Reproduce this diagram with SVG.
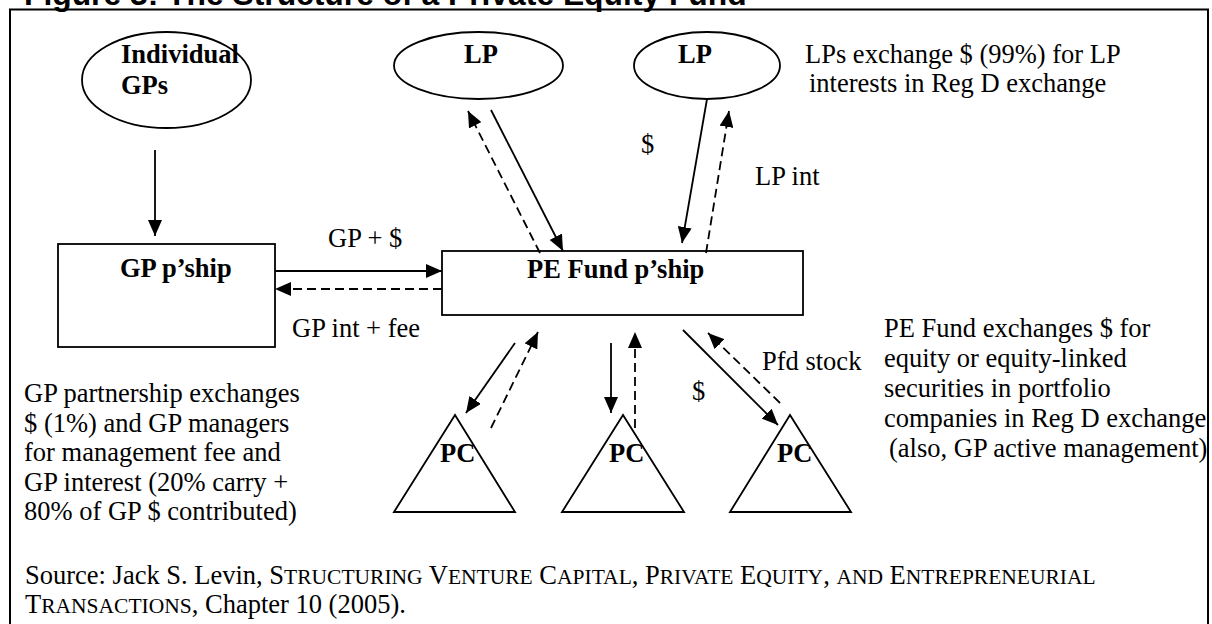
<svg xmlns="http://www.w3.org/2000/svg" width="1212" height="624" viewBox="0 0 1212 624">
<defs>
<style>
.t{font-family:"Liberation Serif","Times New Roman",serif;font-size:26.5px;fill:#000}
.b{font-weight:bold}
.src{font-size:26.5px}
.sc{font-size:21.5px}
.shape{fill:none;stroke:#000;stroke-width:1.8}
.ln{fill:none;stroke:#000;stroke-width:1.8}
.d{stroke-dasharray:9 5}
</style>
<marker id="ah" viewBox="0 0 16 14" refX="16" refY="7" markerWidth="16" markerHeight="14" orient="auto" markerUnits="userSpaceOnUse">
<path d="M0,0 L16,7 L0,14 z" fill="#000"/>
</marker>
</defs>
<rect width="1212" height="624" fill="#fff"/>
<text x="24" y="5" style="font-family:'Liberation Sans',Arial,sans-serif;font-weight:bold;font-size:31.8px">Figure 3: The Structure of a Private Equity Fund</text>
<rect id="frame" x="10" y="9.5" width="1198" height="700" fill="none" stroke="#000" stroke-width="2"/>

<g id="individual-gps">
<ellipse class="shape" cx="166.5" cy="80" rx="84.5" ry="48"/>
<text class="t b" x="121" y="63">Individual</text>
<text class="t b" x="121" y="94">GPs</text>
</g>
<g id="lp1">
<ellipse class="shape" cx="478.5" cy="65.5" rx="84.5" ry="33.5"/>
<text class="t b" x="464" y="63">LP</text>
</g>
<g id="lp2">
<ellipse class="shape" cx="707" cy="65.5" rx="73" ry="33.5"/>
<text class="t b" x="678" y="63">LP</text>
</g>
<g id="gp-pship">
<rect class="shape" x="58" y="244" width="217" height="103"/>
<text class="t b" x="120" y="277">GP p’ship</text>
</g>
<g id="pe-fund">
<rect class="shape" x="442" y="251" width="361" height="64"/>
<text class="t b" x="527" y="278">PE Fund p’ship</text>
</g>
<g id="pc1">
<path class="shape" d="M455,415 L394,512 L515,512 Z"/>
<text class="t b" x="440" y="462">PC</text>
</g>
<g id="pc2">
<path class="shape" d="M623,415 L562,512 L684,512 Z"/>
<text class="t b" x="609" y="462">PC</text>
</g>
<g id="pc3">
<path class="shape" d="M790,415 L730,512 L851,512 Z"/>
<text class="t b" x="777" y="462">PC</text>
</g>

<g id="connectors">
<path class="ln" d="M155,150 L155,236" marker-end="url(#ah)"/>
<path class="ln" d="M275,271 L442,271" marker-end="url(#ah)"/>
<path class="ln d" d="M442,289 L275,289" marker-end="url(#ah)"/>
<path class="ln" d="M491,110 L563,251" marker-end="url(#ah)"/>
<path class="ln d" d="M540,253 L468,111" marker-end="url(#ah)"/>
<path class="ln" d="M707,99 L682,243" marker-end="url(#ah)"/>
<path class="ln d" d="M706,253 L729,111" marker-end="url(#ah)"/>
<path class="ln" d="M515,343 L466,413" marker-end="url(#ah)"/>
<path class="ln d" d="M491,428 L538,332" marker-end="url(#ah)"/>
<path class="ln" d="M611,343 L611,413" marker-end="url(#ah)"/>
<path class="ln d" d="M635,428 L635,332" marker-end="url(#ah)"/>
<path class="ln" d="M683,330 L778,425" marker-end="url(#ah)"/>
<path class="ln d" d="M780,403 L708,333" marker-end="url(#ah)"/>
</g>

<g id="labels">
<text class="t" x="328" y="247">GP + $</text>
<text class="t" x="292" y="337">GP int + fee</text>
<text class="t" x="641" y="153">$</text>
<text class="t" x="755" y="185">LP int</text>
<text class="t" x="762" y="370">Pfd stock</text>
<text class="t" x="692" y="400">$</text>
</g>

<g id="notes">
<text class="t" x="805" y="63">LPs exchange $ (99%) for LP</text>
<text class="t" x="809" y="92">interests in Reg D exchange</text>
<text class="t" x="884" y="337">PE Fund exchanges $ for</text>
<text class="t" x="884" y="367">equity or equity-linked</text>
<text class="t" x="884" y="397">securities in portfolio</text>
<text class="t" x="884" y="427">companies in Reg D exchange</text>
<text class="t" x="889" y="457">(also, GP active management)</text>
<text class="t" x="24" y="402">GP partnership exchanges</text>
<text class="t" x="24" y="431.5">$ (1%) and GP managers</text>
<text class="t" x="24" y="461">for management fee and</text>
<text class="t" x="24" y="490.5">GP interest (20% carry +</text>
<text class="t" x="24" y="520">80% of GP $ contributed)</text>
<text class="t src" x="25" y="584">Source: Jack S. Levin, S<tspan class="sc">TRUCTURING</tspan> V<tspan class="sc">ENTURE</tspan> C<tspan class="sc">APITAL</tspan>, P<tspan class="sc">RIVATE</tspan> E<tspan class="sc">QUITY</tspan>, <tspan class="sc">AND</tspan> E<tspan class="sc">NTREPRENEURIAL</tspan></text>
<text class="t src" x="25" y="613">T<tspan class="sc">RANSACTIONS</tspan>, Chapter 10 (2005).</text>
</g>
</svg>
